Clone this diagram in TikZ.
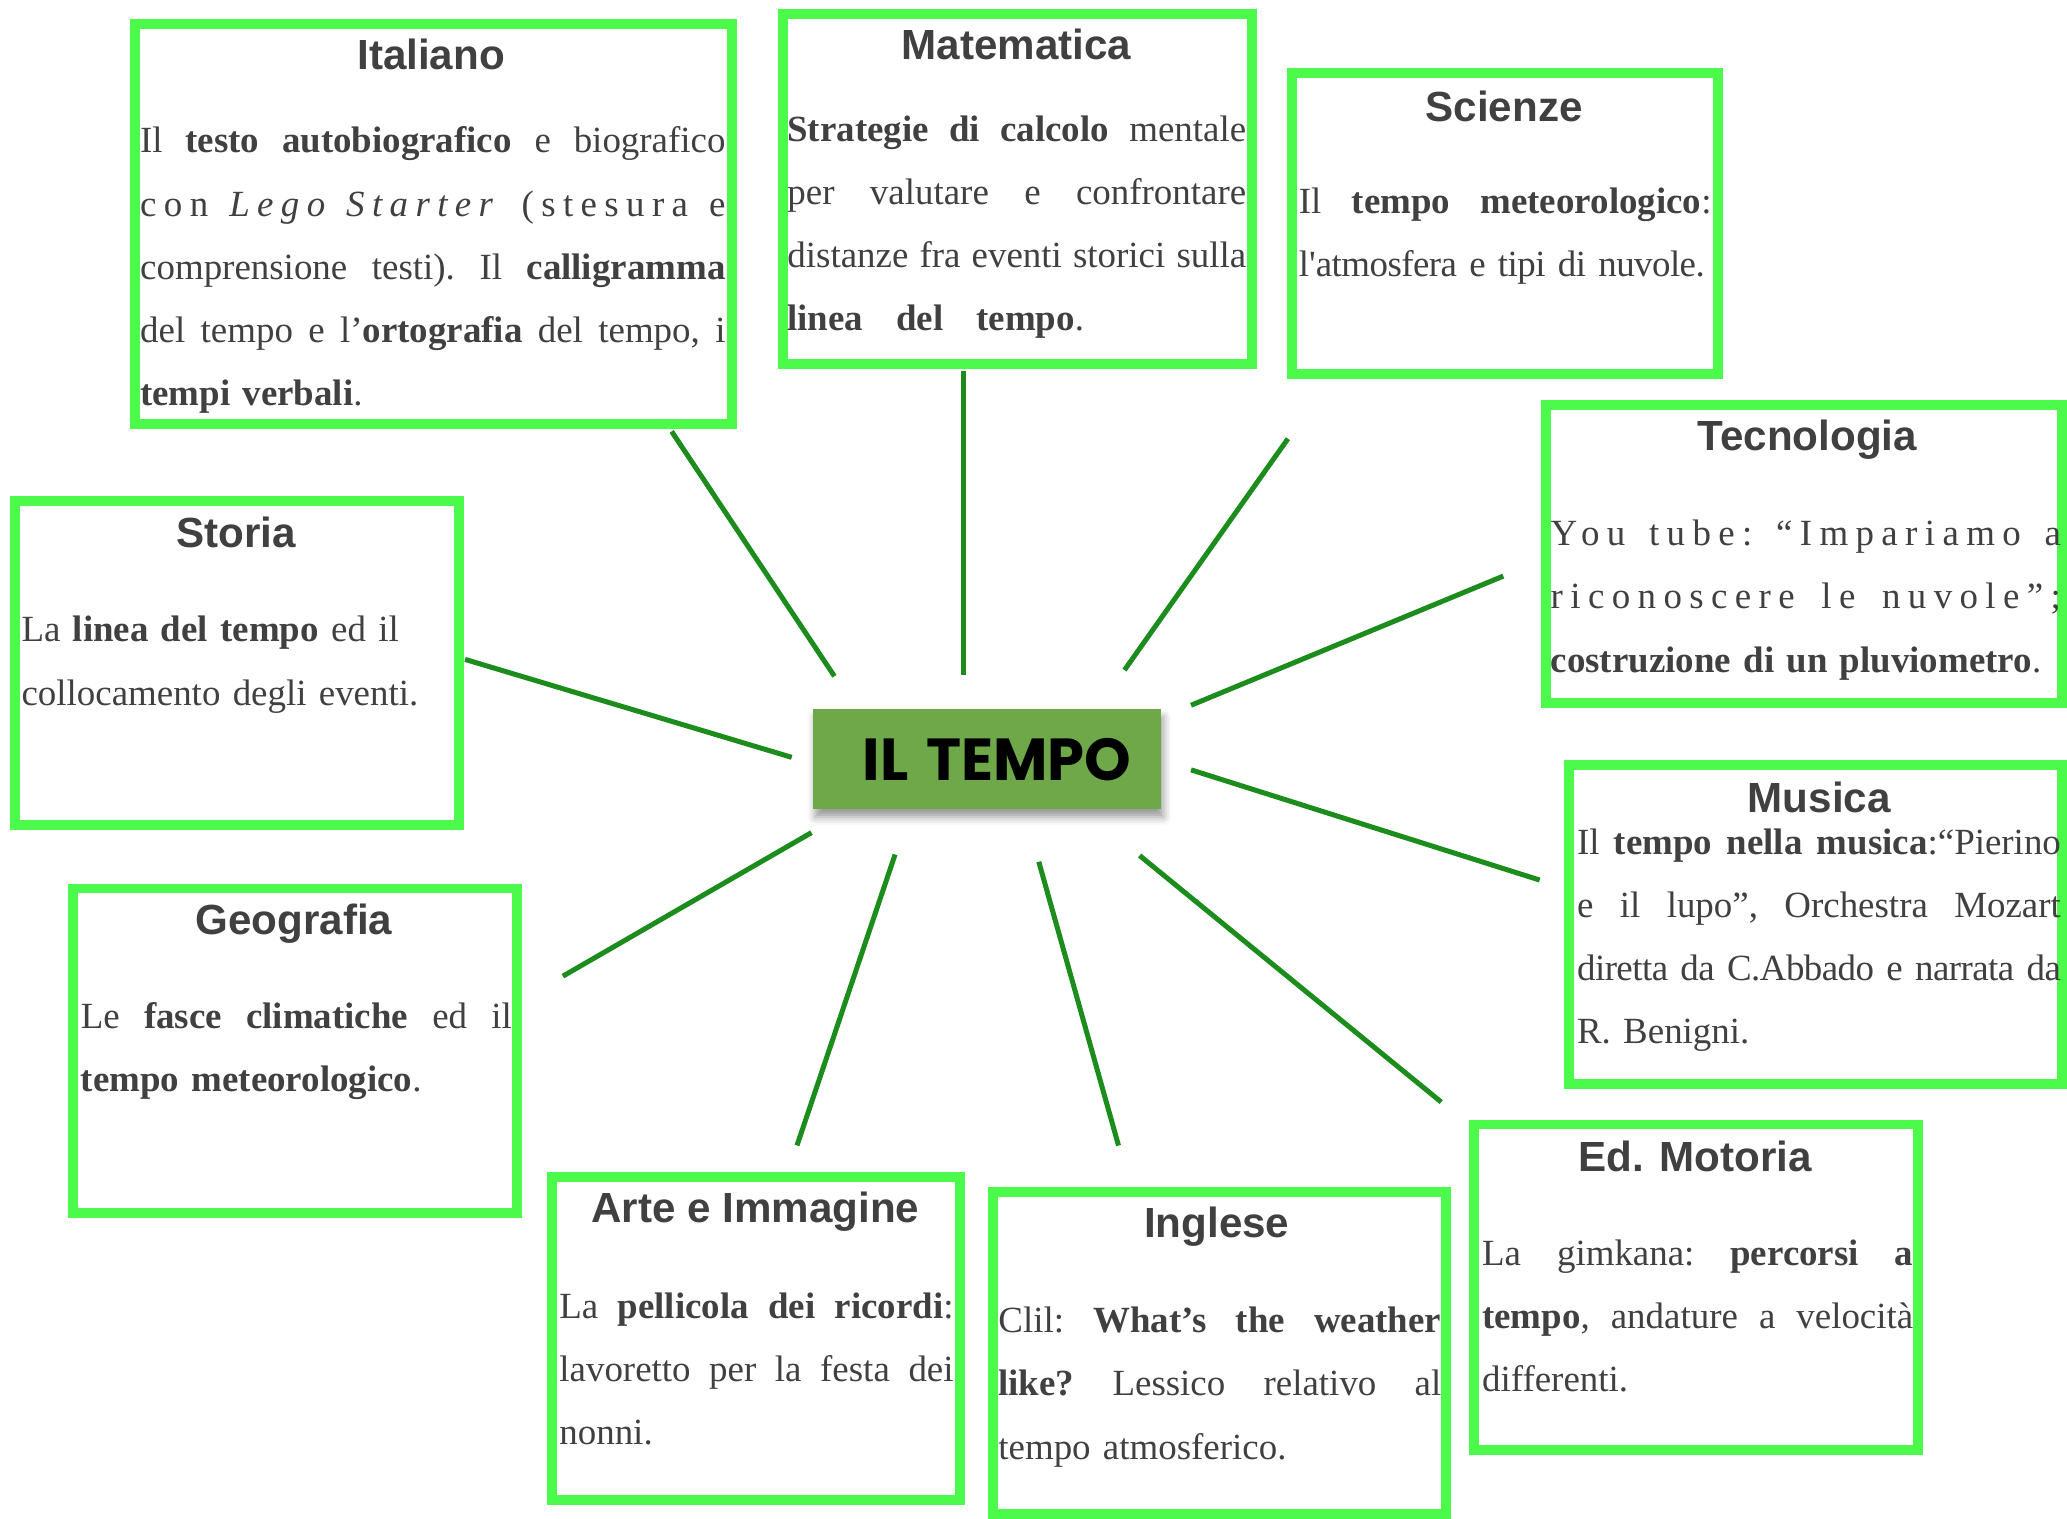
\documentclass[tikz,border=0pt]{standalone}
\usepackage{fontspec}
\setmainfont{Liberation Serif}
\newfontfamily\plainserif{Liberation Serif}
\newfontfamily\titlefont{Liberation Sans}
\newfontfamily\topicfont{Poppins}
\usetikzlibrary{shadows.blur}
\definecolor{framegreen}{RGB}{76,250,76}
\definecolor{linkgreen}{RGB}{28,140,28}
\definecolor{topicgreen}{RGB}{111,168,73}
\definecolor{inkgray}{RGB}{64,64,64}
\newcommand{\bodyfont}{\fontsize{15.94pt}{27.3pt}\selectfont}
% justified line and free line
\newcommand{\jline}[2][\hsize]{\hbox to #1{\frenchspacing\spaceskip=0.25em plus 1fil minus 0.1em\relax #2}}
\newcommand{\pline}[1]{\hbox{#1}}
\newcommand{\spaced}[1][20]{\addfontfeature{LetterSpace=#1}}
\tikzset{
subjbox/.style 2 args={
  draw=framegreen,
  line width=0.15cm,
  minimum width=#1*0.02cm,
  minimum height=#2*0.02cm,
  inner sep=0pt
  },
subjtitle/.style={
  anchor=base,
  inner sep=0pt,
  text=inkgray,
  font=\titlefont\bfseries\fontsize{18.2pt}{22pt}\selectfont
  },
subjtext/.style={
  anchor=base west,
  inner sep=0pt,
  text=inkgray,
  text width=#1*0.02cm,
  font=\bodyfont
  },
topic/.style={
  fill=topicgreen,
  minimum width=264*0.02cm,
  minimum height=76*0.02cm,
  inner sep=0pt,
  blur shadow={shadow xshift=0.03cm, shadow yshift=-0.12cm, shadow blur radius=0.12cm},
  font=\topicfont\bfseries\fontsize{25.6pt}{30pt}\selectfont
  },
link/.style={draw=linkgreen, line width=0.076cm}
}

\begin{document}
\begin{tikzpicture}[x=0.02cm,y=-0.02cm]
\useasboundingbox (0,0) rectangle (1568,1152);

\node[topic] (tempo) at (749,576) {\hspace{0.3cm}IL\hspace{0.08cm} TEMPO};

% boxes
\node[subjbox={453}{303}] (italiano) at (329,170) {};
\node[subjbox={355.5}{265.5}] (matematica) at (771.75,143.25) {};
\node[subjbox={323}{228.5}] (scienze) at (1141.5,169.75) {};
\node[subjbox={391.5}{225.5}] (tecnologia) at (1368.25,420.25) {};
\node[subjbox={336.5}{246}] (storia) at (179.75,503) {};
\node[subjbox={374}{241.5}] (musica) at (1377.5,701.25) {};
\node[subjbox={336.5}{246}] (geografia) at (223.75,797) {};
\node[subjbox={309}{245}] (arte) at (573.5,1015.5) {};
\node[subjbox={344}{244}] (inglese) at (925,1026.5) {};
\node[subjbox={337}{247}] (motoria) at (1286.5,976.5) {};

% titles
\node[subjtitle] (italianoTitle) at (327,53) {Italiano};
\node[subjtitle] (matematicaTitle) at (771,45) {Matematica};
\node[subjtitle] (scienzeTitle) at (1141,92) {Scienze};
\node[subjtitle] (tecnologiaTitle) at (1371,342) {Tecnologia};
\node[subjtitle] (storiaTitle) at (179,415) {Storia};
\node[subjtitle] (musicaTitle) at (1380,616) {Musica};
\node[subjtitle] (geografiaTitle) at (223,709) {Geografia};
\node[subjtitle] (arteTitle) at (573,927) {Arte e Immagine};
\node[subjtitle] (ingleseTitle) at (923,939) {Inglese};
\node[subjtitle] (motoriaTitle) at (1286,889) {Ed. Motoria};

% texts
\node[subjtext=444] (italianoText) at (106,116) {%
  \jline{Il \textbf{testo autobiografico} e biografico}
  \jline{\spaced con \textit{Lego Starter} (stesura e}
  \jline{comprensione testi). Il \textbf{calligramma}}
  \jline{del tempo e l’\textbf{ortografia} del tempo, i}
  \pline{\textbf{tempi verbali}.}};
\node[subjtext=348] (matematicaText) at (597,107) {%
  \jline{\textbf{Strategie di calcolo} mentale}
  \jline{per valutare e confrontare}
  \jline{distanze fra eventi storici sulla}
  \jline[4.5cm]{\textbf{linea del tempo}.}};
\node[subjtext=313] (scienzeText) at (985,162) {%
  \jline{Il \textbf{tempo meteorologico}:}
  \pline{\spaced[-1.5]l{\plainserif\spaced[-1.5]'}atmosfera e tipi di nuvole.}};
\node[subjtext=387] (tecnologiaText) at (1176,414) {%
  \jline{\spaced You tube: “Impariamo a}
  \jline{\spaced riconoscere le nuvole”;}
  \pline{\textbf{costruzione di un pluviometro}.}};
\node[subjtext=320] (storiaText) at (16,487) {%
  \pline{La \textbf{linea del tempo} ed il}
  \pline{collocamento degli eventi.}};
\node[subjtext=367] (musicaText) at (1196,648) {%
  \jline{Il \textbf{tempo nella musica}:“Pierino}
  \jline{e il lupo”, Orchestra Mozart}
  \jline{\spaced[-1.5]diretta da C.Abbado e narrata da}
  \pline{R. Benigni.}};
\node[subjtext=327] (geografiaText) at (61,780) {%
  \jline{Le \textbf{fasce climatiche} ed il}
  \pline{\textbf{tempo meteorologico}.}};
\node[subjtext=299] (arteText) at (424,1000) {%
  \jline{La \textbf{pellicola dei ricordi}:}
  \jline{lavoretto per la festa dei}
  \pline{nonni.}};
\node[subjtext=336] (ingleseText) at (757,1011) {%
  \jline{Clil: \textbf{What’s the weather}}
  \jline{\textbf{like?} Lessico relativo al}
  \pline{tempo atmosferico.}};
\node[subjtext=327] (motoriaText) at (1124,960) {%
  \jline{La gimkana: \textbf{percorsi a}}
  \jline{\textbf{tempo}, andature a velocità}
  \pline{differenti.}};

% connectors
\coordinate (italianoOut) at (509.5,327.3);
\coordinate (italianoIn) at (633,513);
\coordinate (matematicaOut) at (730.7,281.3);
\coordinate (matematicaIn) at (730.7,512);
\coordinate (scienzeOut) at (977,332.8);
\coordinate (scienzeIn) at (853,508.3);
\coordinate (tecnologiaOut) at (1140.4,437);
\coordinate (tecnologiaIn) at (903.5,535);
\coordinate (storiaOut) at (352.8,500.2);
\coordinate (storiaIn) at (600.6,574.5);
\coordinate (musicaOut) at (1168,667.6);
\coordinate (musicaIn) at (903.5,584);
\coordinate (geografiaOut) at (427,740.5);
\coordinate (geografiaIn) at (615.6,631.6);
\coordinate (arteOut) at (604.6,868.9);
\coordinate (arteIn) at (679,648.2);
\coordinate (ingleseOut) at (848.5,869);
\coordinate (ingleseIn) at (788,653.7);
\coordinate (motoriaOut) at (1093.3,836);
\coordinate (motoriaIn) at (864.5,649);

\begin{scope}
\draw[link] (italianoOut) -- (italianoIn);
\draw[link] (matematicaOut) -- (matematicaIn);
\draw[link] (scienzeOut) -- (scienzeIn);
\draw[link] (tecnologiaOut) -- (tecnologiaIn);
\draw[link] (storiaOut) -- (storiaIn);
\draw[link] (musicaOut) -- (musicaIn);
\draw[link] (geografiaOut) -- (geografiaIn);
\draw[link] (arteOut) -- (arteIn);
\draw[link] (ingleseOut) -- (ingleseIn);
\draw[link] (motoriaOut) -- (motoriaIn);
\end{scope}
\end{tikzpicture}
\end{document}
